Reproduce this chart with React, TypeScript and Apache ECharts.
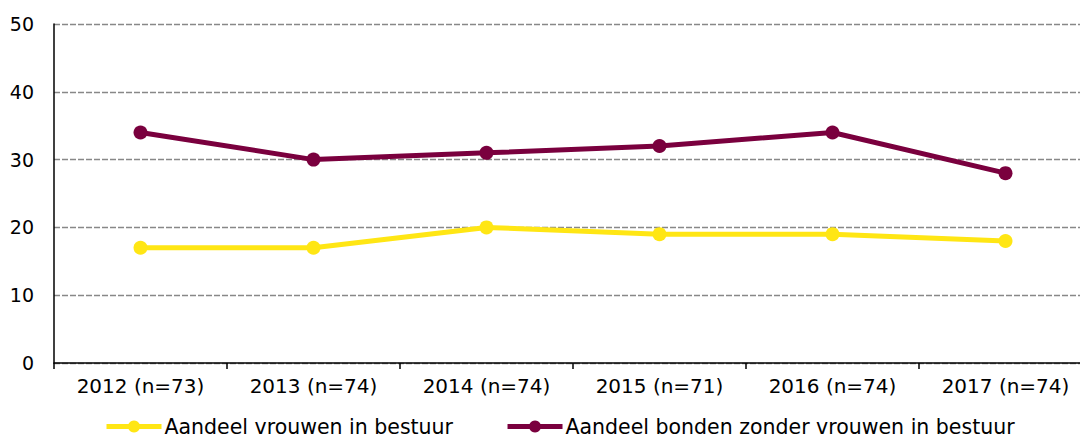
import React, { useEffect, useRef } from "react";
import * as echarts from "echarts";

const categories = ["2012 (n=73)", "2013 (n=74)", "2014 (n=74)", "2015 (n=71)", "2016 (n=74)", "2017 (n=74)"];
const vrouwen = [17, 17, 20, 19, 19, 18];
const zonderVrouwen = [34, 30, 31, 32, 34, 28];
const seriesNames = ["Aandeel vrouwen in bestuur", "Aandeel bonden zonder vrouwen in bestuur"];

export default function App() {
  const ref = useRef<HTMLDivElement>(null);
  useEffect(() => {
    const chart = echarts.init(ref.current!, null, { renderer: "svg" });
    const font = "'DejaVu Sans', Verdana, sans-serif";
    chart.setOption({
      animation: false,
      textStyle: { fontFamily: font },
      grid: { left: 54, top: 24, width: 1038, height: 339 },
      legend: {
        left: 104,
        top: 416,
        padding: 0,
        itemWidth: 55,
        itemHeight: 15,
        itemGap: 52,
        lineStyle: { width: 5 },
        textStyle: { fontSize: 20.5, color: "#000", fontFamily: font, padding: [0, 0, 0, -2] },
        data: seriesNames,
      },
      xAxis: {
        type: "category",
        data: categories,
        boundaryGap: true,
        axisLine: { lineStyle: { color: "#000", width: 1.5 } },
        axisTick: { show: true, length: 6, lineStyle: { color: "#000", width: 1.5 } },
        axisLabel: { color: "#000", fontSize: 20, margin: 13, fontFamily: font },
      },
      yAxis: {
        type: "value",
        min: 0,
        max: 50,
        interval: 10,
        axisLine: { show: true, lineStyle: { color: "#000", width: 1.5 } },
        axisTick: { show: false },
        axisLabel: { color: "#000", fontSize: 19, margin: 20, fontFamily: font },
        splitLine: { lineStyle: { color: "#888", width: 1.3, type: [6, 2] } },
      },
      series: [
        {
          name: seriesNames[0],
          type: "line",
          data: vrouwen,
          color: "#ffe614",
          lineStyle: { width: 5, color: "#ffe614" },
          itemStyle: { color: "#ffe614" },
          symbol: "circle",
          symbolSize: 14,
        },
        {
          name: seriesNames[1],
          type: "line",
          data: zonderVrouwen,
          color: "#7a003e",
          lineStyle: { width: 5, color: "#7a003e" },
          itemStyle: { color: "#7a003e" },
          symbol: "circle",
          symbolSize: 14,
        },
      ],
    });
    return () => chart.dispose();
  }, []);
  return (
    <div style={{ position: "absolute", left: 0, top: 0, width: 1080, height: 442, overflow: "hidden" }}>
      <div ref={ref} style={{ width: 1100, height: 442 }} />
    </div>
  );
}
